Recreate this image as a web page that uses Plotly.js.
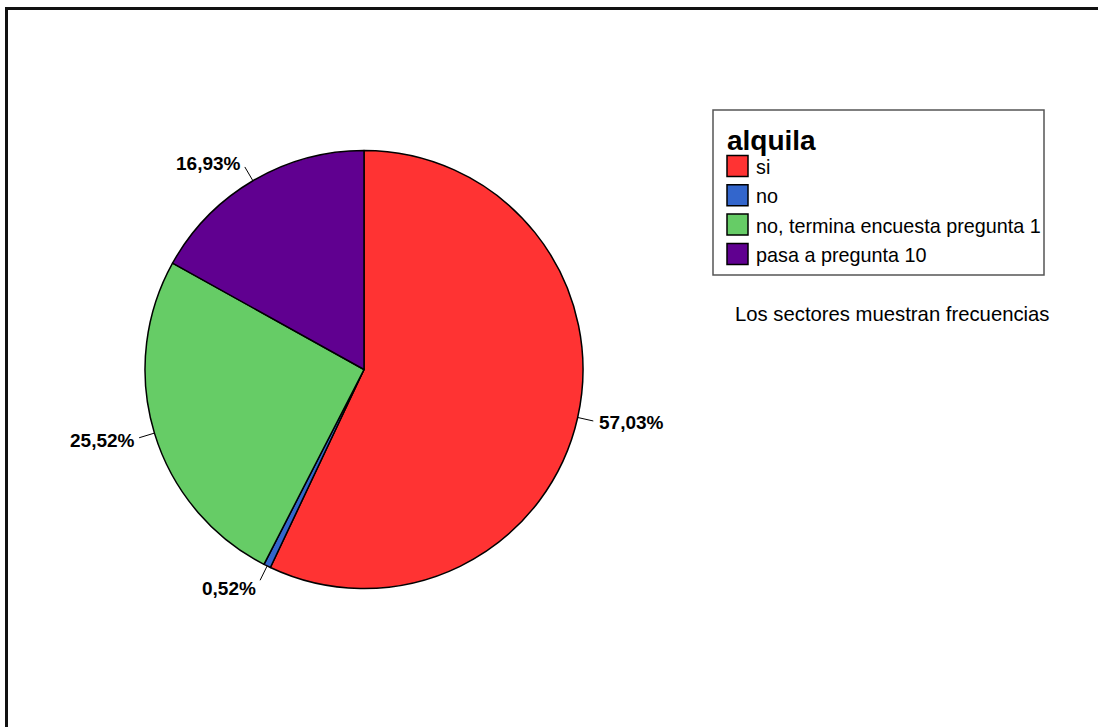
<!DOCTYPE html>
<html>
<head>
<meta charset="utf-8">
<script src="https://cdn.plot.ly/plotly-3.0.1.min.js"></script>
<style>html,body{margin:0;padding:0;background:#fff;}#chart{width:1098px;height:727px;}</style>
</head>
<body>
<div id="chart"></div>
<script>
// ---- data ----
var categories = ["si", "no", "no, termina encuesta pregunta 1", "pasa a pregunta 10"];
var percents = [57.03, 0.52, 25.52, 16.93];
var legendTitle = "alquila";
var noteText = "Los sectores muestran frecuencias";

// ---- style ----
var colors = ["#FF3333", "#3366CC", "#66CC66", "#600090"];
var W = 1098, H = 727;
var FONT = "Liberation Sans, Arial, sans-serif";
var cx = 364, cy = 369.5, R = 219;   // pie geometry (px)

function px2x(p) { return p / W; }
function px2y(p) { return 1 - p / H; }

var shapes = [];
var annotations = [];

// outer frame
shapes.push({type: "rect", xref: "paper", yref: "paper",
  x0: px2x(6.5), x1: 1.2, y0: -0.2, y1: px2y(8.5),
  line: {color: "#111", width: 3}, fillcolor: "rgba(0,0,0,0)"});

// percentage labels with leader lines, placed from the slice mid-angles
var total = percents.reduce(function (a, b) { return a + b; }, 0);
var cum = 0;
percents.forEach(function (v, i) {
  var mid = (cum + v / 2) / total * 2 * Math.PI;
  cum += v;
  var dx = Math.sin(mid), dy = -Math.cos(mid);
  var ex = cx + dx * R, ey = cy + dy * R;
  var L = 16;
  var lx = ex + dx * L, ly = ey + dy * L;
  shapes.push({type: "line", xref: "paper", yref: "paper",
    x0: px2x(ex), y0: px2y(ey), x1: px2x(lx), y1: px2y(ly),
    line: {color: "#000", width: 1}});
  var right = dx >= 0;
  var tx = lx + (right ? 4 : -2);
  var ty = ly + dy * (dy > 0 ? 9 : 4);
  annotations.push({xref: "paper", yref: "paper", x: px2x(tx), y: px2y(ty),
    xanchor: right ? "left" : "right", yanchor: "middle", showarrow: false,
    text: "<b>" + v.toFixed(2).replace(".", ",") + "%</b>",
    font: {family: FONT, size: 19, color: "#000"}});
});

// legend box (custom)
var LX0 = 713, LY0 = 110, LX1 = 1044, LY1 = 275;
shapes.push({type: "rect", xref: "paper", yref: "paper",
  x0: px2x(LX0), x1: px2x(LX1), y0: px2y(LY1), y1: px2y(LY0),
  line: {color: "#555", width: 1.5}, fillcolor: "rgba(0,0,0,0)"});
annotations.push({xref: "paper", yref: "paper", x: px2x(725), y: px2y(140),
  xanchor: "left", yanchor: "middle", showarrow: false,
  text: "<b>" + legendTitle + "</b>", font: {family: FONT, size: 28, color: "#000"}});
categories.forEach(function (c, i) {
  var yc = 166 + i * 29.3;
  shapes.push({type: "rect", xref: "paper", yref: "paper",
    x0: px2x(727), x1: px2x(748), y0: px2y(yc + 10.5), y1: px2y(yc - 10.5),
    line: {color: "#000", width: 1.5}, fillcolor: colors[i]});
  annotations.push({xref: "paper", yref: "paper", x: px2x(754), y: px2y(yc + 1),
    xanchor: "left", yanchor: "middle", showarrow: false,
    text: c, font: {family: FONT, size: 19.8, color: "#000"}});
});
annotations.push({xref: "paper", yref: "paper", x: px2x(733), y: px2y(314),
  xanchor: "left", yanchor: "middle", showarrow: false,
  text: noteText, font: {family: FONT, size: 20.3, color: "#000"}});

var trace = {
  type: "pie",
  labels: categories,
  values: percents,
  sort: false,
  direction: "clockwise",
  rotation: 0,
  textinfo: "none",
  hoverinfo: "label+percent",
  marker: {colors: colors, line: {color: "#000", width: 1.5}},
  domain: {x: [px2x(cx - R), px2x(cx + R)], y: [px2y(cy + R), px2y(cy - R)]},
  showlegend: false
};

var layout = {
  width: W, height: H,
  margin: {l: 0, r: 0, t: 0, b: 0},
  paper_bgcolor: "#fff", plot_bgcolor: "#fff",
  showlegend: false,
  font: {family: FONT},
  shapes: shapes,
  annotations: annotations
};

Plotly.newPlot("chart", [trace], layout, {staticPlot: true, displayModeBar: false});
</script>
</body>
</html>
